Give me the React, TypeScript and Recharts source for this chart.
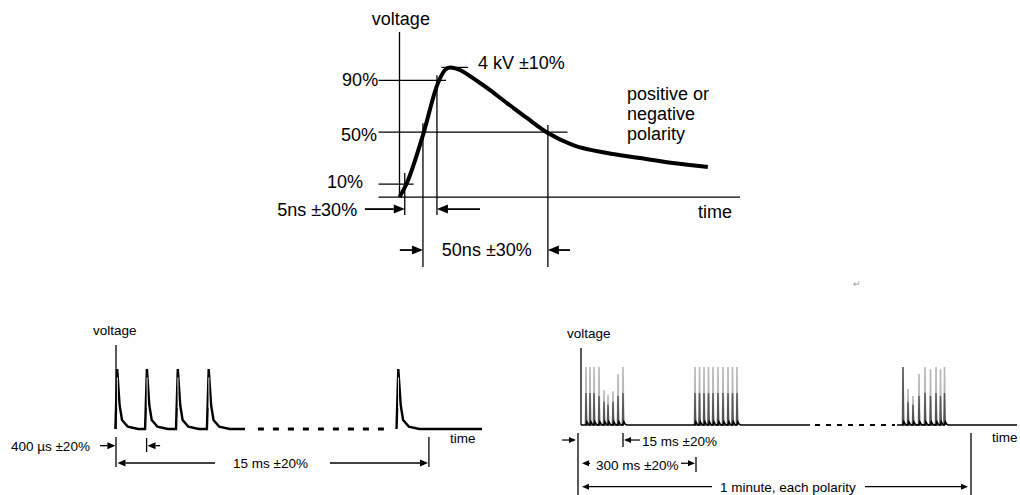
import { LineChart, Line, XAxis, YAxis, ReferenceLine, ReferenceDot } from "recharts";

type Pt = { x: number; y: number };
type Seg = [number, number, number, number];
type Txt = { x: number; y: number; text: string; anchor?: "start" | "end" };

const FONT = "'Liberation Sans', Arial, Helvetica, sans-serif";

// ---- top: single pulse, time in arbitrary units, voltage in % of peak ----
const surgeCurve: Pt[] = [
  { x: 0, y: 0 },
  { x: 2.1, y: 10.8 },
  { x: 6.7, y: 47.8 },
  { x: 11, y: 88 },
  { x: 13, y: 98 },
  { x: 14.4, y: 100 },
  { x: 23, y: 88 },
  { x: 30.7, y: 72.5 },
  { x: 36.4, y: 61 },
  { x: 42.4, y: 49.4 },
  { x: 49.6, y: 40.1 },
  { x: 59.3, y: 34 },
  { x: 68.7, y: 30.1 },
  { x: 78.1, y: 26.2 },
  { x: 88.1, y: 23.1 },
];

// [x1, y1, x2, y2]
const surgeGuides: Seg[] = [
  [0, 0, 0, 127.3],
  [-6, 0, 97.3, 0],
  [-6, 90, 13.3, 90],
  [-6, 50, 48, 50],
  [-6, 10, 4, 10],
  [12, 100, 19.6, 100],
  [1.5, 18.5, 1.5, -13.9],
  [6.7, 57, 6.7, -54],
  [10.7, 94, 10.7, -13.9],
  [42.4, 55.6, 42.4, -54],
];

const surgeArrows: Seg[] = [
  [-9.9, -9.3, 1.5, -9.3],
  [23, -9.3, 10.7, -9.3],
  [0.1, -40.9, 6.7, -40.9],
  [48.7, -40.9, 42.4, -40.9],
];

const surgeLabels: Txt[] = [
  { x: -7.9, y: 132.7, text: "voltage" },
  { x: -6.1, y: 85.6, text: "90%", anchor: "end" },
  { x: -6.4, y: 43.2, text: "50%", anchor: "end" },
  { x: -10.4, y: 6.9, text: "10%", anchor: "end" },
  { x: -12.1, y: -14.7, text: "5ns \u00b130%", anchor: "end" },
  { x: 22.4, y: 98.8, text: "4 kV \u00b110%" },
  { x: 65, y: 74.8, text: "positive or" },
  { x: 65, y: 59.4, text: "negative" },
  { x: 65, y: 44, text: "polarity" },
  { x: 85.3, y: -16.2, text: "time" },
  { x: 12.1, y: -45.5, text: "50ns \u00b130%" },
];

// ---- bottom left: pulse train ----
const trainStarts = [0.4, 10.3, 20.6, 30.9, 94.1];
const pulseShape: Pt[] = [
  { x: -0.6, y: 0 },
  { x: 0, y: 100 },
  { x: 0.8, y: 40 },
  { x: 1.6, y: 15 },
  { x: 3.5, y: 4 },
  { x: 7, y: 0 },
];
// light inner stroke that makes each spike look hollow near its top
const pulseCore: Pt[] = [
  { x: 0.1, y: 35 },
  { x: 0.05, y: 86 },
];
const trainSolidEnd = 43;
const trainTailEnd = 122;
const trainDashes: Pt[] = [
  { x: 47.3, y: 0 },
  { x: 90.7, y: 0 },
];

const trainGuides: Seg[] = [
  [0, 0, 0, 140],
  [10.2, -15, 10.2, -38.3],
  [0, -13.3, 0, -63.3],
  [104.3, -13.3, 104.3, -63.3],
];
const trainArrows: Seg[] = [
  [-5.3, -27.8, -0.2, -27.8],
  [14.7, -27.8, 10.5, -27.8],
  [33, -56.7, 0.5, -56.7],
  [71.3, -56.7, 104, -56.7],
];
const trainLabels: Txt[] = [
  { x: -7.7, y: 156.7, text: "voltage" },
  { x: -8.7, y: -36.7, text: "400 \u00b5s \u00b120%", anchor: "end" },
  { x: 39, y: -65, text: "15 ms \u00b120%" },
  { x: 111.3, y: -23.9, text: "time" },
];

// ---- bottom right: bursts ----
const burstSpikes = [
  [2.5, 4.5, 6.5, 9, 11.5, 13.5, 16, 18.5, 21],
  [57, 59.25, 61.5, 63.75, 66, 68.5, 71, 73.5, 75.75, 78],
  [161, 163.5, 166, 169, 172, 174.75, 177.5, 179.75, 181.75],
];
const burstHeights = [
  [100, 100, 100, 100, 60, 52, 58, 88, 100],
  [100, 100, 100, 100, 100, 100, 100, 100, 100, 100],
  [100, 62, 50, 88, 100, 96, 100, 96, 100],
];
const burstCores = [
  [55, 55, 55, 50, 40, 35, 40, 50, 55],
  [55, 55, 55, 55, 55, 55, 55, 55, 55, 55],
  [100, 40, 35, 50, 55, 50, 55, 50, 55],
];
const burstTail: Pt[] = [
  { x: 0, y: 0 },
  { x: 0.4, y: 6 },
  { x: 1.1, y: 1.5 },
  { x: 1.8, y: 0 },
];
const burstBaseA: Pt[] = [
  { x: 0, y: 0 },
  { x: 114.5, y: 0 },
];
const burstBaseB: Pt[] = [
  { x: 158, y: 0 },
  { x: 218, y: 0 },
];
const burstDashes: Pt[] = [
  { x: 117, y: 0 },
  { x: 157, y: 0 },
];

const burstGuides: Seg[] = [
  [0, 0, 0, 132.8],
  [-1.5, -13.8, -1.5, -120.7],
  [21, -13.8, 21, -37.9],
  [57.5, -55.2, 57.5, -81],
  [195, -13.8, 195, -120.7],
];
const burstArrows: Seg[] = [
  [-9.5, -25.9, -2.5, -25.9],
  [29.5, -25.9, 21.5, -25.9],
  [4.5, -66, 0.5, -66],
  [50, -66, 57, -66],
  [65.5, -106.4, 0.5, -106.4],
  [142, -106.4, 193.5, -106.4],
];
const burstLabels: Txt[] = [
  { x: -7, y: 150, text: "voltage" },
  { x: 30.5, y: -36.2, text: "15 ms \u00b120%" },
  { x: 7.5, y: -77.6, text: "300 ms \u00b120%" },
  { x: 69.5, y: -115.5, text: "1 minute, each polarity" },
  { x: 205.5, y: -29.3, text: "time" },
];

// ---- helpers ----
function Arrow(props: any) {
  const { x1, y1, x2, y2, head, wing, width } = props;
  const dx = x2 - x1;
  const dy = y2 - y1;
  const len = Math.hypot(dx, dy) || 1;
  const ux = dx / len;
  const uy = dy / len;
  const bx = x2 - ux * head;
  const by = y2 - uy * head;
  return (
    <g>
      <line x1={x1} y1={y1} x2={bx} y2={by} stroke="#000" strokeWidth={width} />
      <polygon
        points={`${x2},${y2} ${bx - uy * wing},${by + ux * wing} ${bx + uy * wing},${by - ux * wing}`}
        fill="#000"
      />
    </g>
  );
}

function guides(list: Seg[], width: number, key: string) {
  return list.map((s, i) => (
    <ReferenceLine
      key={`${key}${i}`}
      segment={[
        { x: s[0], y: s[1] },
        { x: s[2], y: s[3] },
      ]}
      stroke="#000"
      strokeWidth={width}
      ifOverflow="visible"
    />
  ));
}

function arrows(list: Seg[], head: number, wing: number, width: number, key: string) {
  return list.map((s, i) => (
    <ReferenceLine
      key={`${key}${i}`}
      segment={[
        { x: s[0], y: s[1] },
        { x: s[2], y: s[3] },
      ]}
      ifOverflow="visible"
      shape={(p: any) => <Arrow {...p} head={head} wing={wing} width={width} />}
    />
  ));
}

function labels(list: Txt[], size: number, key: string) {
  return list.map((t, i) => (
    <ReferenceDot
      key={`${key}${i}`}
      x={t.x}
      y={t.y}
      r={0}
      ifOverflow="visible"
      shape={(p: any) => (
        <text
          x={p.cx}
          y={p.cy}
          textAnchor={t.anchor ?? "start"}
          fontSize={size}
          fontFamily={FONT}
          fill="#000"
        >
          {t.text}
        </text>
      )}
    />
  ));
}

function placeShape(starts: number[], shape: Pt[], heights?: number[]): Pt[] {
  return starts.flatMap((x0, i) =>
    shape.map((p) => ({
      x: x0 + p.x,
      y: heights ? (p.y === 0 ? 0 : heights[i]) : p.y,
    })),
  );
}

const spikeShape: Pt[] = [
  { x: -0.25, y: 0 },
  { x: 0, y: 1 },
  { x: 0.35, y: 0 },
];

const trainFirst = [
  ...placeShape(trainStarts.slice(0, 4), pulseShape),
  { x: trainSolidEnd, y: 0 },
];
const trainLast = [
  ...placeShape(trainStarts.slice(4), pulseShape),
  { x: trainTailEnd, y: 0 },
];
const trainCores = trainStarts.map((x0) => placeShape([x0], pulseCore));

const burstGray = burstSpikes.map((b, i) => placeShape(b, spikeShape, burstHeights[i]));
const burstDark = burstSpikes.map((b, i) => placeShape(b, spikeShape, burstCores[i]));
const burstBlackA = [
  ...burstBaseA,
  ...placeShape([...burstSpikes[0], ...burstSpikes[1]], burstTail),
].sort((a, b) => a.x - b.x);
const burstBlackB = [
  ...burstBaseB,
  ...placeShape(burstSpikes[2], burstTail),
].sort((a, b) => a.x - b.x);

const noMargin = { top: 0, right: 0, bottom: 0, left: 0 };

export default function App() {
  return (
    <div
      style={{
        position: "absolute",
        left: 0,
        top: 0,
        width: 1020,
        height: 495,
        background: "#fff",
        fontFamily: FONT,
      }}
    >
      <div style={{ position: "absolute", left: 270, top: 0 }}>
        <LineChart width={490} height={280} margin={noMargin}>
          <XAxis dataKey="x" type="number" domain={[-37, 103]} hide allowDataOverflow />
          <YAxis type="number" domain={[-64, 152]} hide allowDataOverflow />
          {guides(surgeGuides, 1.3, "sg")}
          <Line
            data={surgeCurve}
            dataKey="y"
            type="monotone"
            stroke="#000"
            strokeWidth={4}
            dot={false}
            activeDot={false}
            isAnimationActive={false}
          />
          {arrows(surgeArrows, 11, 4.5, 1.8, "sa")}
          {labels(surgeLabels, 18, "sl")}
        </LineChart>
      </div>

      <div style={{ position: "absolute", left: 8, top: 310 }}>
        <LineChart width={492} height={170} margin={noMargin}>
          <XAxis dataKey="x" type="number" domain={[-36, 128]} hide allowDataOverflow />
          <YAxis type="number" domain={[-85, 198.33]} hide allowDataOverflow />
          {guides(trainGuides, 1.3, "tg")}
          <Line
            data={trainFirst}
            dataKey="y"
            type="linear"
            stroke="#000"
            strokeWidth={2.4}
            dot={false}
            activeDot={false}
            isAnimationActive={false}
          />
          <Line
            data={trainLast}
            dataKey="y"
            type="linear"
            stroke="#000"
            strokeWidth={2.4}
            dot={false}
            activeDot={false}
            isAnimationActive={false}
          />
          {trainCores.map((d, i) => (
            <Line
              key={`tc${i}`}
              data={d}
              dataKey="y"
              type="linear"
              stroke="#fff"
              strokeWidth={0.9}
              dot={false}
              activeDot={false}
              isAnimationActive={false}
            />
          ))}
          <Line
            data={trainDashes}
            dataKey="y"
            type="linear"
            stroke="#000"
            strokeWidth={2.8}
            strokeDasharray="6 9"
            dot={false}
            activeDot={false}
            isAnimationActive={false}
          />
          {arrows(trainArrows, 8, 3.5, 1.3, "ta")}
          {labels(trainLabels, 13.5, "tl")}
        </LineChart>
      </div>

      <div style={{ position: "absolute", left: 555, top: 310 }}>
        <LineChart width={465} height={185} margin={noMargin}>
          <XAxis dataKey="x" type="number" domain={[-13, 219.5]} hide allowDataOverflow />
          <YAxis type="number" domain={[-120.7, 198.3]} hide allowDataOverflow />
          {burstGray.map((d, i) => (
            <Line
              key={`bg${i}`}
              data={d}
              dataKey="y"
              type="linear"
              stroke="#b8b8b8"
              strokeWidth={1.6}
              dot={false}
              activeDot={false}
              isAnimationActive={false}
            />
          ))}
          {burstDark.map((d, i) => (
            <Line
              key={`bd${i}`}
              data={d}
              dataKey="y"
              type="linear"
              stroke="#555"
              strokeWidth={1.4}
              dot={false}
              activeDot={false}
              isAnimationActive={false}
            />
          ))}
          {[burstBlackA, burstBlackB].map((d, i) => (
            <Line
              key={`bb${i}`}
              data={d}
              dataKey="y"
              type="linear"
              stroke="#000"
              strokeWidth={1.5}
              dot={false}
              activeDot={false}
              isAnimationActive={false}
            />
          ))}
          <Line
            data={burstDashes}
            dataKey="y"
            type="linear"
            stroke="#000"
            strokeWidth={1.8}
            strokeDasharray="5 6"
            dot={false}
            activeDot={false}
            isAnimationActive={false}
          />
          {guides(burstGuides, 1.3, "bgd")}
          {arrows(burstArrows, 7, 3, 1.2, "ba")}
          {labels(burstLabels, 13.5, "bl")}
        </LineChart>
      </div>

      <span
        style={{
          position: "absolute",
          left: 853,
          top: 279,
          fontSize: 9,
          color: "#999",
        }}
      >
        {"\u21b5"}
      </span>
    </div>
  );
}
